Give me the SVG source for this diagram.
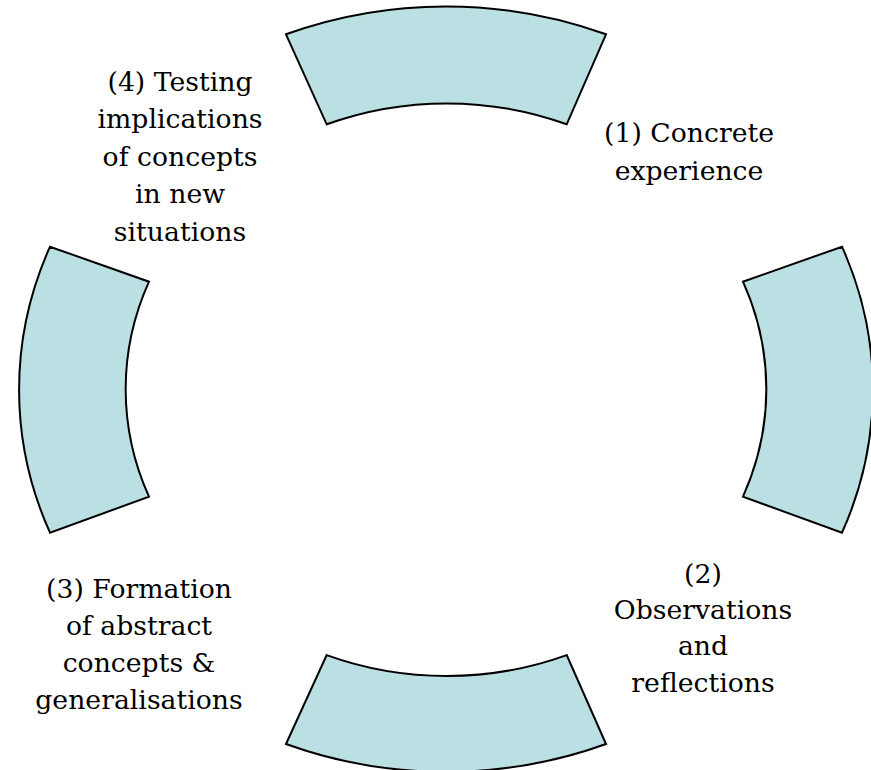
<svg xmlns="http://www.w3.org/2000/svg" width="871" height="770" viewBox="0 0 871 770">
<style>
.seg{fill:#BAE0E3;stroke:#000;stroke-width:2;stroke-linejoin:miter}
.lbl{font-family:"DejaVu Serif","Liberation Serif",serif;font-size:26.7px;fill:#000;text-anchor:middle}
</style>
<rect width="871" height="770" fill="#fff"/>
<g id="seg-top"><path class="seg" d="M286,34.3 A427.5,383 0 0,1 606,34.3 L566.7,124.3 A320.5,287 0 0,0 326.7,124.3 Z"/></g>
<g id="seg-right"><path class="seg" d="M842,246.7 A427.5,383 0 0,1 842,532.7 L743,496.7 A320.5,287 0 0,0 743,281.7 Z"/></g>
<g id="seg-bottom"><path class="seg" d="M286,744 L326.7,655.1 A320.5,287 0 0,0 566.7,655.1 L606,744 A427.5,383 0 0,1 286,744 Z"/></g>
<g id="seg-left"><path class="seg" d="M50,532.7 A427.5,383 0 0,1 50,246.7 L149,281.7 A320.5,287 0 0,0 149,496.7 Z"/></g>
<g id="label-1"><text class="lbl" x="689" y="142">(1) Concrete</text><text class="lbl" x="689" y="180">experience</text></g>
<g id="label-2"><text class="lbl" x="703" y="583">(2)</text><text class="lbl" x="703" y="619">Observations</text><text class="lbl" x="703" y="655">and</text><text class="lbl" x="703" y="692">reflections</text></g>
<g id="label-3"><text class="lbl" x="139" y="598">(3) Formation</text><text class="lbl" x="139" y="635">of abstract</text><text class="lbl" x="139" y="672">concepts &amp;</text><text class="lbl" x="139" y="709">generalisations</text></g>
<g id="label-4"><text class="lbl" x="180" y="90.5">(4) Testing</text><text class="lbl" x="180" y="128">implications</text><text class="lbl" x="180" y="165.5">of concepts</text><text class="lbl" x="180" y="203">in new</text><text class="lbl" x="180" y="240.5">situations</text></g>
<g id="connectors"></g>
</svg>
